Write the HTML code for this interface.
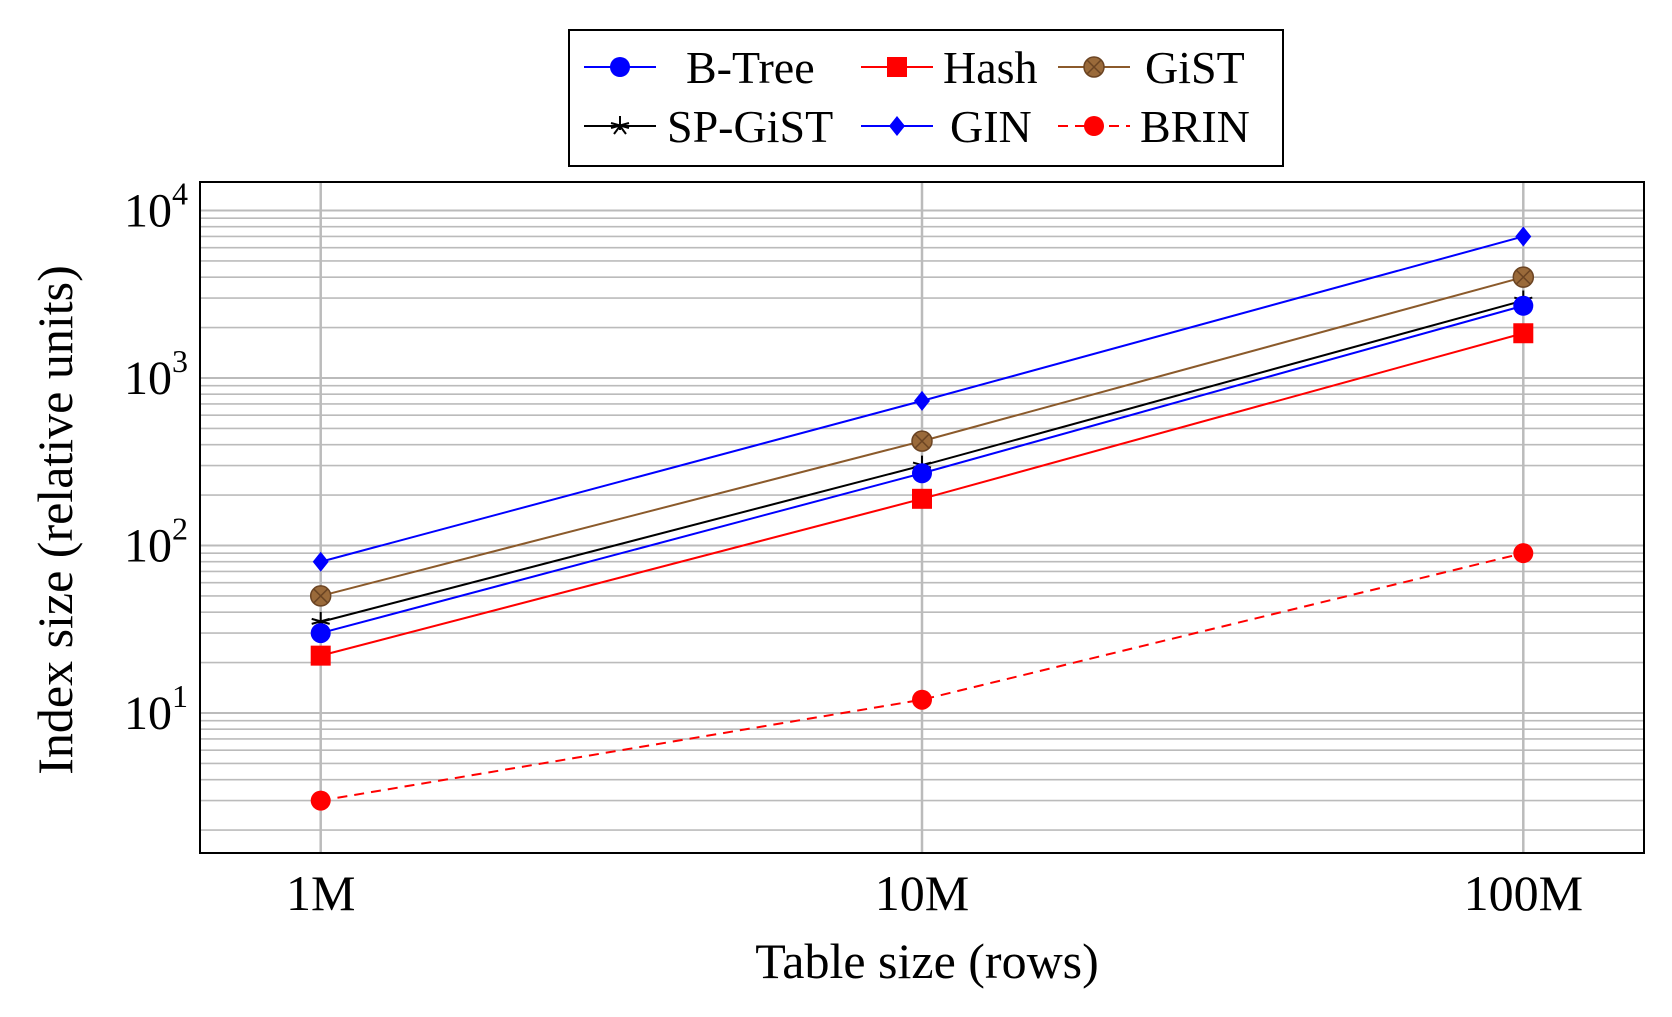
<!DOCTYPE html>
<html><head><meta charset="utf-8"><style>
body{margin:0;background:#fff;}
svg text{font-family:"Liberation Serif",serif;fill:#000;}
</style></head><body>
<svg id="chart" width="1672" height="1012" viewBox="0 0 1672 1012" xmlns="http://www.w3.org/2000/svg">
<g id="grid"></g>
<g id="series"></g>
<rect x="200" y="182" width="1444" height="671" fill="none" stroke="#000" stroke-width="2"/>
<g id="ticks"></g>
<text x="927" y="978" font-size="50" text-anchor="middle">Table size (rows)</text>
<text transform="translate(72,520) rotate(-90)" font-size="50" text-anchor="middle">Index size (relative units)</text>
<g id="legend"></g>
</svg>
<script>
const categories = ["1M","10M","100M"];
const xValues = [1e6,1e7,1e8];
const seriesNames = ["B-Tree","Hash","GiST","SP-GiST","GIN","BRIN"];
const btree = [30,270,2700];
const hash = [22,190,1850];
const gist = [50,420,4000];
const spgist = [35,300,2900];
const gin = [80,730,7000];
const brin = [3,12,90];
const yTicks = [1,2,3,4];

const NS="http://www.w3.org/2000/svg";
const L=200,R=1644,T=182,B=853;
const x0=320.7,x1=1523.3;
function xs(v){return x0+(Math.log10(v)-6)/2*(x1-x0);}
const y1v=713,dec=167.5;
function ys(v){return y1v-(Math.log10(v)-1)*dec;}
function mk(tag,attrs,parent){const e=document.createElementNS(NS,tag);for(const k in attrs)e.setAttribute(k,attrs[k]);parent.appendChild(e);return e;}
const grid=document.getElementById('grid'),ser=document.getElementById('series'),tk=document.getElementById('ticks'),lg=document.getElementById('legend');
for(let d=0;d<=4;d++){for(let m=1;m<10;m++){const v=m*Math.pow(10,d);const y=ys(v);if(y<T||y>B)continue;
 const ln=mk('line',{x1:L,x2:R,y1:y,y2:y,stroke:'#bbb','stroke-width':m==1?2:1.6},grid);
 
 }}
xValues.forEach((v,i)=>{const x=xs(v);
 const ln=mk('line',{x1:x,x2:x,y1:T,y2:B,stroke:'#bbb','stroke-width':2.5},grid);
 
 
 const t=mk('text',{x:x,y:910,'font-size':50,'text-anchor':'middle'},tk);t.textContent=categories[i];
 
 });
yTicks.forEach(p=>{const y=ys(Math.pow(10,p));
 const t=mk('text',{x:188,y:y+16,'font-size':48,'text-anchor':'end'},tk);
 t.innerHTML='10<tspan dy="-22" font-size="32">'+p+'</tspan>';
 
 });
function marker(type,x,y,color,parent){
 let e;
 if(type==='circle'){e=mk('circle',{cx:x,cy:y,r:10,fill:color},parent);}
 else if(type==='square'){e=mk('rect',{x:x-10,y:y-10,width:20,height:20,fill:color},parent);}
 else if(type==='otimes'){const g=mk('g',{},parent);mk('circle',{cx:x,cy:y,r:10,fill:'#9a6a3a',stroke:'#6b4423','stroke-width':1.5},g);
  mk('path',{d:`M${x-7} ${y-7}L${x+7} ${y+7}M${x-7} ${y+7}L${x+7} ${y-7}`,stroke:'#6b4423','stroke-width':1.5},g);e=g;}
 else if(type==='star'){e=mk('path',{d:`M${x} ${y-10}V${y+4}M${x-9} ${y-3}L${x+9} ${y+2}M${x+9} ${y-3}L${x-9} ${y+2}M${x} ${y}L${x-6} ${y+8}M${x} ${y}L${x+6} ${y+8}`,stroke:'#000','stroke-width':2,fill:'none'},parent);}
 else if(type==='diamond'){e=mk('path',{d:`M${x} ${y-10}L${x+8} ${y}L${x} ${y+10}L${x-8} ${y}Z`,fill:color},parent);}
 return e;}
const defs=[
 {name:seriesNames[4],data:gin,color:'#0000ff',m:'diamond',dash:null},
 {name:seriesNames[2],data:gist,color:'#8b5a2b',m:'otimes',dash:null},
 {name:seriesNames[3],data:spgist,color:'#000',m:'star',dash:null},
 {name:seriesNames[0],data:btree,color:'#0000ff',m:'circle',dash:null},
 {name:seriesNames[1],data:hash,color:'#ff0000',m:'square',dash:null},
 {name:seriesNames[5],data:brin,color:'#ff0000',m:'circle',dash:'10 7'}];
defs.forEach(s=>{
 const g=mk('g',{},ser);
 
 
 const pts=s.data.map((v,i)=>xs(xValues[i])+','+ys(v)).join(' ');
 const a={points:pts,fill:'none',stroke:s.color,'stroke-width':2};if(s.dash)a['stroke-dasharray']=s.dash;
 mk('polyline',a,g);
 s.data.forEach((v,i)=>{const m=marker(s.m,xs(xValues[i]),ys(v),s.color,g);
  
  });
});
mk('rect',{x:569,y:30,width:714,height:136,fill:'#fff',stroke:'#000','stroke-width':2},lg);
const leg=[
 {n:'B-Tree',c:'#0000ff',m:'circle',lx:584,tx:686,y:67,d:null},
 {n:'Hash',c:'#ff0000',m:'square',lx:861,tx:943,y:67,d:null},
 {n:'GiST',c:'#8b5a2b',m:'otimes',lx:1058,tx:1145,y:67,d:null},
 {n:'SP-GiST',c:'#000',m:'star',lx:584,tx:667,y:126,d:null},
 {n:'GIN',c:'#0000ff',m:'diamond',lx:861,tx:950,y:126,d:null},
 {n:'BRIN',c:'#ff0000',m:'circle',lx:1058,tx:1140,y:126,d:'10 7'}];
leg.forEach(e=>{const g=mk('g',{},lg);
 
 
 const a={x1:e.lx,x2:e.lx+72,y1:e.y,y2:e.y,stroke:e.c,'stroke-width':2};if(e.d)a['stroke-dasharray']=e.d;
 mk('line',a,g);marker(e.m,e.lx+36,e.y,e.c,g);
 const t=mk('text',{x:e.tx,y:e.y+16,'font-size':46},g);t.textContent=e.n;});
</script>
</body></html>
